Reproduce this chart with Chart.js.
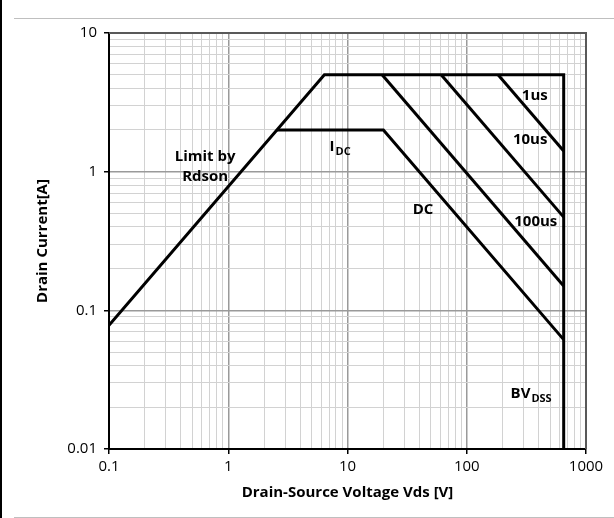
<!DOCTYPE html>
<html><head><meta charset="utf-8">
<script src="https://cdn.jsdelivr.net/npm/chart.js@4.4.1/dist/chart.umd.min.js"></script>
<style>
html,body{margin:0;padding:0;background:#fff;}
#wrap{position:relative;width:614px;height:518px;overflow:hidden;}
canvas{position:absolute;left:0;top:0;}
#frameLeft{position:absolute;left:0;top:0;width:2px;height:518px;background:#000;}
#frameTop{position:absolute;left:14px;top:18px;width:600px;height:1px;background:#bfbfbf;}
#frameBottom{position:absolute;left:14px;top:517px;width:600px;height:1px;background:#bfbfbf;}
</style></head><body>
<div id="wrap">
<canvas id="c" width="614" height="518"></canvas>
<div id="frameLeft"></div><div id="frameTop"></div><div id="frameBottom"></div>
</div>
<script>
// ---- axis ticks ----
const xTickValues = [0.1, 1, 10, 100, 1000];
const xTickLabels = ['0.1', '1', '10', '100', '1000'];
const yTickValues = [0.01, 0.1, 1, 10];
const yTickLabels = ['0.01', '0.1', '1', '10'];
const minorSteps = [2, 3, 4, 5, 6, 7, 8, 9];

// ---- SOA curves (Vds [V], Id [A]) ----
const boundaryV = [0.1, 6.4, 650, 650];
const boundaryI = [0.078, 5, 5, 0.01];
const dcV = [2.56, 20, 650];
const dcI = [2, 2, 0.0615];
const pulse100usV = [19.5, 650];
const pulse100usI = [5, 0.15];
const pulse10usV = [61, 650];
const pulse10usI = [5, 0.47];
const pulse1usV = [183, 650];
const pulse1usI = [5, 1.41];

// ---- annotations ----
const noteTexts = ['Limit by', 'Rdson', 'I', 'DC', '1us', '10us', '100us', 'BV'];
const noteSubs  = ['', '', 'DC', '', '', '', '', 'DSS'];
const noteV     = [0.64, 0.64, 7.08, 43, 372, 340, 379, 233];
const noteI     = [1.28, 0.92, 1.51, 0.528, 3.52, 1.69, 0.434, 0.0249];
const noteAlign = ['center', 'center', 'left', 'center', 'center', 'center', 'center', 'left'];

const FONT = "'Open Sans', 'Liberation Sans', sans-serif";

function pts(v, i) { return v.map((x, k) => ({ x: x, y: i[k] })); }
function buildTicks(majors) {
  const t = [];
  majors.forEach((m, k) => {
    t.push({ value: m, major: true });
    if (k < majors.length - 1) minorSteps.forEach(s => t.push({ value: m * s, major: false }));
  });
  return t;
}
function isMajor(v, list) { return list.some(m => Math.abs(v - m) / m < 1e-6); }

function lineDs(v, i) {
  return { data: pts(v, i), borderColor: '#000', borderWidth: 3, pointRadius: 0,
           tension: 0, fill: false, borderJoinStyle: 'miter', borderCapStyle: 'butt' };
}

const gridOpts = (list) => ({
  color: c => (c.tick && isMajor(c.tick.value, list)) ? '#9a9a9a' : '#d2d2d2',
  lineWidth: c => (c.tick && isMajor(c.tick.value, list)) ? 1.5 : 1,
  tickColor: c => (c.tick && isMajor(c.tick.value, list)) ? '#000' : 'rgba(0,0,0,0)',
  tickLength: 5,
  tickWidth: 1.5,
  drawTicks: true
});

const framePlugin = {
  id: 'frame',
  beforeDatasetsDraw(chart) {
    const a = chart.chartArea, ctx = chart.ctx;
    ctx.save();
    ctx.strokeStyle = '#595959';
    ctx.lineWidth = 2;
    ctx.beginPath();
    ctx.moveTo(a.left, a.top); ctx.lineTo(a.right, a.top); ctx.lineTo(a.right, a.bottom);
    ctx.stroke();
    ctx.restore();
  }
};

const notePlugin = {
  id: 'notes',
  afterDatasetsDraw(chart) {
    const ctx = chart.ctx, sx = chart.scales.x, sy = chart.scales.y;
    ctx.save();
    ctx.fillStyle = '#000';
    ctx.textBaseline = 'middle';
    noteTexts.forEach((t, k) => {
      const px = sx.getPixelForValue(noteV[k]);
      const py = sy.getPixelForValue(noteI[k]);
      ctx.font = 'bold 15px ' + FONT;
      ctx.textAlign = noteAlign[k];
      ctx.fillText(t, px, py);
      if (noteSubs[k]) {
        const w = ctx.measureText(t).width;
        ctx.font = 'bold 11px ' + FONT;
        ctx.textAlign = 'left';
        ctx.fillText(noteSubs[k], px + w + 1, py + 5);
      }
    });
    ctx.restore();
  }
};

new Chart(document.getElementById('c'), {
  type: 'line',
  data: {
    datasets: [
      lineDs(boundaryV, boundaryI),
      lineDs(dcV, dcI),
      lineDs(pulse100usV, pulse100usI),
      lineDs(pulse10usV, pulse10usI),
      lineDs(pulse1usV, pulse1usI)
    ]
  },
  options: {
    responsive: false,
    animation: false,
    devicePixelRatio: 1,
    layout: { padding: { top: 33, right: 28, left: 0, bottom: 0 } },
    plugins: { legend: { display: false }, tooltip: { enabled: false } },
    scales: {
      x: {
        type: 'logarithmic', min: 0.1, max: 1000,
        afterBuildTicks: s => { s.ticks = buildTicks(xTickValues); },
        afterFit: s => { s.height = 69; },
        ticks: {
          autoSkip: false, maxRotation: 0, padding: 4, color: '#000',
          font: { family: FONT, size: 15 },
          callback: v => { const k = xTickValues.findIndex(m => Math.abs(v - m) / m < 1e-6); return k >= 0 ? xTickLabels[k] : ''; }
        },
        grid: gridOpts(xTickValues),
        border: { display: true, color: '#000', width: 2 },
        title: { display: true, text: 'Drain-Source Voltage Vds [V]', color: '#000',
                 font: { family: FONT, size: 15, weight: 'bold' }, padding: { top: 0, bottom: 16 } }
      },
      y: {
        type: 'logarithmic', min: 0.01, max: 10,
        afterBuildTicks: s => { s.ticks = buildTicks(yTickValues); },
        afterFit: s => { s.width = 109; },
        ticks: {
          autoSkip: false, padding: 7, color: '#000',
          font: { family: FONT, size: 15 },
          callback: v => { const k = yTickValues.findIndex(m => Math.abs(v - m) / m < 1e-6); return k >= 0 ? yTickLabels[k] : ''; }
        },
        grid: gridOpts(yTickValues),
        border: { display: true, color: '#000', width: 2 },
        title: { display: true, text: 'Drain Current[A]', color: '#000',
                 font: { family: FONT, size: 15, weight: 'bold' }, padding: { top: 34, bottom: 0 } }
      }
    }
  },
  plugins: [framePlugin, notePlugin]
});
</script>
</body></html>
